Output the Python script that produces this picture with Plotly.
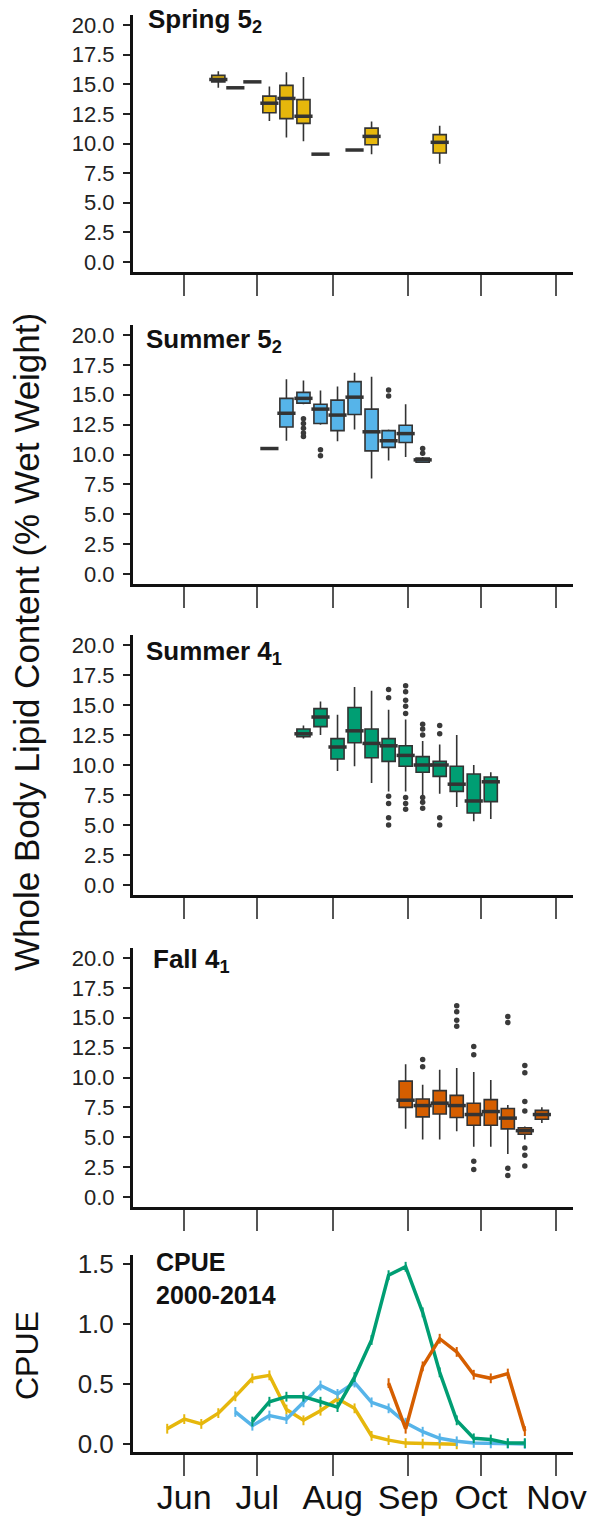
import plotly.graph_objects as go

FONT = "Liberation Sans, Arial, Helvetica, sans-serif"

# ---------------- data ----------------
month_days = [152, 182, 213, 244, 274, 305]          # day of year of 1st of month
month_labels = ["Jun", "Jul", "Aug", "Sep", "Oct", "Nov"]

# Spring 5_2 (weekly boxplots, week of year)
spring_weeks = [24, 25, 26, 27, 28, 29, 30, 32, 33, 37]
spring_lo  = [14.7, 14.7, 15.2, 11.9, 10.5, 10.2, 9.1, 9.45, 9.1, 8.3]
spring_q1  = [15.2, 14.7, 15.2, 12.6, 12.1, 11.7, 9.1, 9.45, 9.9, 9.2]
spring_med = [15.4, 14.7, 15.2, 13.4, 13.8, 12.3, 9.1, 9.45, 10.6, 10.1]
spring_q3  = [15.75, 14.7, 15.2, 14.0, 14.9, 13.7, 9.1, 9.45, 11.3, 10.75]
spring_hi  = [16.1, 14.7, 15.2, 14.8, 16.0, 15.6, 9.1, 9.45, 11.85, 11.5]
spring_out_weeks = []
spring_out_vals = []

# Summer 5_2
s52_weeks = [27, 28, 29, 30, 31, 32, 33, 34, 35, 36]
s52_lo  = [10.5, 11.15, 14.2, 12.5, 11.1, 12.1, 8.0, 9.5, 9.8, 9.3]
s52_q1  = [10.5, 12.3, 14.3, 12.6, 12.0, 13.35, 10.3, 10.6, 11.0, 9.35]
s52_med = [10.5, 13.45, 14.7, 13.8, 13.3, 14.8, 11.9, 11.15, 11.75, 9.55]
s52_q3  = [10.5, 14.7, 15.2, 14.2, 14.55, 16.1, 13.8, 12.0, 12.45, 9.7]
s52_hi  = [10.5, 16.3, 16.2, 15.35, 15.7, 16.85, 16.5, 12.1, 14.2, 9.8]
s52_out_weeks = [29, 29, 29, 29, 29, 30, 30, 34, 34, 36, 36]
s52_out_vals  = [13.0, 12.6, 12.2, 11.8, 11.5, 10.4, 9.9, 15.4, 14.9, 10.5, 10.1]

# Summer 4_1
s41_weeks = [29, 30, 31, 32, 33, 34, 35, 36, 37, 38, 39, 40]
s41_lo  = [12.2, 12.5, 9.5, 9.9, 8.5, 7.8, 7.8, 7.5, 7.6, 6.5, 5.3, 5.5]
s41_q1  = [12.35, 13.2, 10.5, 11.85, 10.6, 10.3, 9.9, 9.4, 9.05, 7.8, 6.0, 6.95]
s41_med = [12.6, 14.0, 11.5, 12.85, 11.8, 11.6, 10.8, 10.0, 10.0, 8.4, 7.0, 8.6]
s41_q3  = [13.0, 14.7, 12.2, 14.8, 13.0, 12.2, 11.6, 10.7, 10.3, 9.9, 9.25, 9.0]
s41_hi  = [13.3, 15.3, 14.2, 16.5, 16.2, 14.6, 13.8, 12.0, 11.7, 12.5, 10.0, 9.4]
s41_out_weeks = [34, 34, 34, 34, 34, 34,
                 35, 35, 35, 35, 35, 35, 35, 35,
                 36, 36, 36, 36, 36, 36,
                 37, 37, 37, 37]
s41_out_vals = [16.3, 15.6, 7.4, 6.8, 5.6, 5.0,
                16.6, 16.1, 15.4, 14.9, 14.3, 7.3, 6.8, 6.3,
                13.4, 13.0, 12.5, 7.3, 6.9, 6.4,
                13.3, 12.6, 5.6, 5.0]

# Fall 4_1
f41_weeks = [35, 36, 37, 38, 39, 40, 41, 42, 43]
f41_lo  = [5.7, 4.8, 4.8, 5.5, 4.2, 4.2, 3.6, 4.8, 6.2]
f41_q1  = [7.5, 6.7, 6.95, 6.65, 6.0, 6.0, 5.7, 5.25, 6.5]
f41_med = [8.1, 7.65, 7.85, 7.65, 6.9, 7.15, 6.6, 5.55, 6.9]
f41_q3  = [9.7, 8.2, 8.9, 8.5, 7.85, 8.15, 7.4, 5.8, 7.25]
f41_hi  = [11.1, 9.4, 10.65, 10.8, 10.45, 9.8, 7.7, 5.9, 7.5]
f41_out_weeks = [36, 36, 38, 38, 38, 38, 39, 39, 39, 39,
                 41, 41, 41, 41, 42, 42, 42, 42, 42, 42, 42]
f41_out_vals = [11.5, 10.9, 16.0, 15.5, 14.8, 14.3, 12.6, 11.9, 3.0, 2.3,
                15.1, 14.6, 2.4, 1.8, 11.0, 10.4, 8.0, 7.2, 4.1, 3.5, 2.6]

# CPUE 2000-2014 (weekly means)
cpue_spring_weeks = list(range(21, 39))
cpue_spring = [0.13, 0.21, 0.17, 0.26, 0.40, 0.55, 0.575, 0.29, 0.20, 0.28,
               0.38, 0.30, 0.07, 0.035, 0.01, 0.005, 0.003, 0.0]
cpue_s52_weeks = list(range(25, 43))
cpue_s52 = [0.27, 0.155, 0.24, 0.21, 0.35, 0.49, 0.42, 0.515, 0.35, 0.30,
            0.18, 0.105, 0.05, 0.025, 0.012, 0.008, 0.005, 0.003]
cpue_s41_weeks = list(range(26, 43))
cpue_s41 = [0.19, 0.355, 0.397, 0.397, 0.355, 0.31, 0.56, 0.87, 1.41, 1.48,
            1.10, 0.60, 0.20, 0.05, 0.04, 0.01, 0.01]
cpue_f41_weeks = list(range(34, 43))
cpue_f41 = [0.51, 0.13, 0.65, 0.88, 0.77, 0.58, 0.55, 0.59, 0.11]

COL_SPRING = "#E6B70C"
COL_S52 = "#56B4E9"
COL_S41 = "#009E73"
COL_F41 = "#D55E00"


def week_day(w):
    """centre of week-of-year w as day of year"""
    return 7 * w - 2


# ---------------- layout helpers ----------------
W, H = 590, 1517
ML, MR, MT, MB = 133, 17, 15, 65
PW = W - ML - MR
PH = H - MT - MB


def px_x(px):
    return (px - ML) / PW


def px_y(py):
    return (H - MB - py) / PH


panels = [(15, 272), (325, 584), (635, 895), (948, 1207), (1255, 1452)]

fig = go.Figure()

box_sets = [
    (spring_weeks, spring_lo, spring_q1, spring_med, spring_q3, spring_hi,
     spring_out_weeks, spring_out_vals, COL_SPRING),
    (s52_weeks, s52_lo, s52_q1, s52_med, s52_q3, s52_hi,
     s52_out_weeks, s52_out_vals, COL_S52),
    (s41_weeks, s41_lo, s41_q1, s41_med, s41_q3, s41_hi,
     s41_out_weeks, s41_out_vals, COL_S41),
    (f41_weeks, f41_lo, f41_q1, f41_med, f41_q3, f41_hi,
     f41_out_weeks, f41_out_vals, COL_F41),
]

for i, (wk, lo, q1, med, q3, hi, ow, ov, col) in enumerate(box_sets):
    xa = "x" if i == 0 else f"x{i+1}"
    ya = "y" if i == 0 else f"y{i+1}"
    xs = [week_day(w) for w in wk]
    fig.add_trace(go.Box(
        x=xs, q1=q1, median=med, q3=q3, lowerfence=lo, upperfence=hi,
        width=5.4, fillcolor=col, line=dict(color="#333333", width=1.6),
        whiskerwidth=0, boxpoints=False, xaxis=xa, yaxis=ya,
        showlegend=False, hoverinfo="skip"))
    # thicker median bar
    fig.add_trace(go.Scatter(
        x=xs, y=med, mode="markers", xaxis=xa, yaxis=ya,
        marker=dict(symbol="line-ew", size=13,
                    line=dict(color="#333333", width=3.5)),
        showlegend=False, hoverinfo="skip"))
    if ov:
        fig.add_trace(go.Scatter(
            x=[week_day(w) for w in ow], y=ov, mode="markers",
            xaxis=xa, yaxis=ya,
            marker=dict(symbol="circle", size=5.5, color="#3a3a3a"),
            showlegend=False, hoverinfo="skip"))

for wk, vals, col in [(cpue_spring_weeks, cpue_spring, COL_SPRING),
                      (cpue_s52_weeks, cpue_s52, COL_S52),
                      (cpue_s41_weeks, cpue_s41, COL_S41),
                      (cpue_f41_weeks, cpue_f41, COL_F41)]:
    fig.add_trace(go.Scatter(
        x=[week_day(w) for w in wk], y=vals, mode="lines+markers",
        xaxis="x5", yaxis="y5",
        line=dict(color=col, width=3.5),
        marker=dict(symbol="line-ns", size=7, line=dict(color=col, width=2)),
        showlegend=False, hoverinfo="skip"))

xrange = [130.93, 311.8]
layout = dict(
    width=W, height=H,
    margin=dict(l=ML, r=MR, t=MT, b=MB, autoexpand=False),
    paper_bgcolor="white", plot_bgcolor="white",
    font=dict(family=FONT, color="#111111"),
    showlegend=False,
)

for i, (top, bot) in enumerate(panels):
    n = "" if i == 0 else str(i + 1)
    last = i == 4
    layout["xaxis" + n] = dict(
        domain=[0, 1], anchor="y" + n, range=xrange, automargin=False,
        tickvals=month_days, ticktext=month_labels,
        showticklabels=last, ticks="outside", ticklen=21, tickwidth=1.6,
        tickcolor="#555555", showline=True, linewidth=3, linecolor="#111111",
        showgrid=False, zeroline=False, ticklabelstandoff=-8,
        tickfont=dict(size=34, family=FONT, color="#111111"))
    if last:
        ydict = dict(range=[-0.064, 1.578], tickvals=[0, 0.5, 1.0, 1.5],
                     tickfont=dict(size=26, family=FONT, color="#222222"))
    else:
        ydict = dict(range=[-0.84, 20.84],
                     tickvals=[0, 2.5, 5, 7.5, 10, 12.5, 15, 17.5, 20],
                     tickfont=dict(size=22, family=FONT, color="#222222"))
    ydict.update(
        domain=[px_y(bot), px_y(top)], anchor="x" + n, automargin=False,
        tickformat=".1f", ticks="outside", ticklen=7, tickwidth=1.6,
        tickcolor="#222222", showline=True, linewidth=3, linecolor="#111111",
        showgrid=False, zeroline=False, ticklabelstandoff=4)
    layout["yaxis" + n] = ydict

TSIZE = 26
titles = [("Spring 5<sub>2</sub>", 146, 11),
          ("Summer 5<sub>2</sub>", 144, 331),
          ("Summer 4<sub>1</sub>", 144, 643),
          ("Fall 4<sub>1</sub>", 150.5, 951),
          ("CPUE<br>2000-2014", 154, 1255)]
annotations = []
for txt, xl, captop in titles:
    annotations.append(dict(
        text="<b>" + txt + "</b>", x=px_x(xl), y=px_y(captop - 9),
        xref="paper", yref="paper", xanchor="left", yanchor="top",
        align="left", showarrow=False,
        font=dict(size=TSIZE if "CPUE" not in txt else 25,
                  family=FONT, color="#111111")))

annotations.append(dict(
    text="Whole Body Lipid Content (% Wet Weight)", textangle=-90,
    x=px_x(27), y=px_y(642), xref="paper", yref="paper",
    xanchor="center", yanchor="middle", showarrow=False,
    font=dict(size=35, family=FONT, color="#111111")))
annotations.append(dict(
    text="CPUE", textangle=-90,
    x=px_x(27), y=px_y(1356), xref="paper", yref="paper",
    xanchor="center", yanchor="middle", showarrow=False,
    font=dict(size=32, family=FONT, color="#111111")))
layout["annotations"] = annotations

fig.update_layout(**layout)
fig.write_html("out.html",
               config={"displayModeBar": False},
               post_script="document.body.style.margin='0';"
                           "document.body.style.overflow='hidden';")
